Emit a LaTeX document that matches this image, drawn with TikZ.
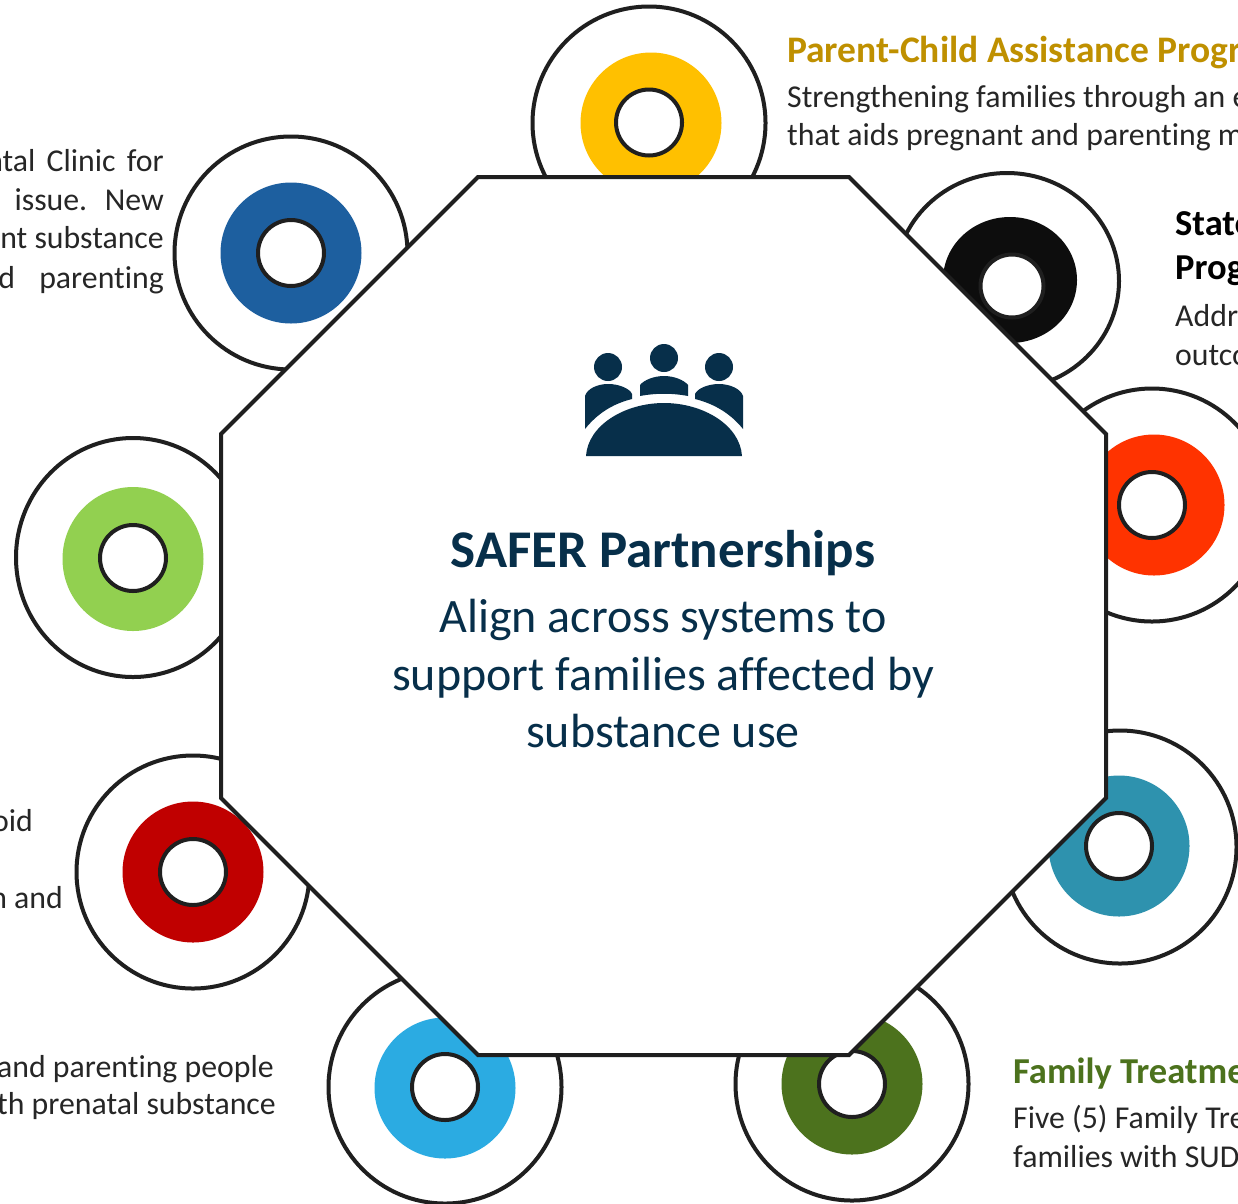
\documentclass[tikz,border=0pt]{standalone}
\usepackage{fontspec}
\setmainfont[Ligatures=NoCommon]{Carlito}
\definecolor{ink}{HTML}{262626}
\definecolor{line}{HTML}{1F1F1F}
\definecolor{navy}{HTML}{072F4A}
\definecolor{cyellow}{HTML}{FFC000}
\definecolor{cblack}{HTML}{0D0D0D}
\definecolor{corange}{HTML}{FF3300}
\definecolor{cteal}{HTML}{2E92AE}
\definecolor{cforest}{HTML}{4C721D}
\definecolor{csky}{HTML}{2BABE2}
\definecolor{cred}{HTML}{C00000}
\definecolor{clime}{HTML}{92D050}
\definecolor{cblue}{HTML}{1D5F9F}
\definecolor{gold}{HTML}{BF9000}
\tikzset{
  outerc/.style={draw=line,line width=4pt,fill=white},
  innerc/.style={draw=line,line width=4pt,fill=white},
  octa/.style={draw=line,line width=4pt,fill=white,line join=miter},
  body/.style={font=\fontsize{31.8}{36}\selectfont,text=ink,inner sep=0pt},
  lefttxt/.style={body,anchor=base east},
  righttxt/.style={body,anchor=base west},
  head/.style={font=\fontsize{36.5}{40}\selectfont\bfseries,inner sep=0pt,anchor=base west},
  centre/.style={font=\fontsize{48}{54}\selectfont,text=navy,inner sep=0pt,anchor=base},
}
\begin{document}
\begin{tikzpicture}[x=1pt,y=-1pt]
\useasboundingbox (0,0) rectangle (1238,1203);
\clip (0,0) rectangle (1238,1203);
\fill[white] (0,0) rectangle (1238,1203);
% outer circles, rings and holes
\foreach \ox/\oy/\orx/\ory/\ix/\iy/\rr/\rx/\ry/\rrx/\rry/\col in {
  649/123/116.5/116.5/649/122.5/33/651/123/70.5/70.5/cyellow,
  1007/281/112/108/1012/286/31.5/1010/280/67/63/cblack,
  1152/505/116.5/116.5/1152/505/33/1154/505/70.5/70.5/corange,
  1120/847/116.5/116.5/1119/846/33/1119/846/70.5/70.5/cteal,
  852/1084/116.5/116.5/852/1084/33/852/1084/70.5/70.5/cforest,
  445/1087/116.5/116.5/445/1087/33/445/1088/70.5/70.5/csky,
  193/872/116.5/116.5/193/872/33/193/872/70.5/70.5/cred,
  133/557.5/117/119.5/133/558/33/133/559/70.5/72/clime,
  291/253/116.5/116.5/291/253/33/291/253/70.5/70.5/cblue}{
  \draw[outerc] (\ox,\oy) ellipse[x radius=\orx,y radius=\ory];
  \fill[\col] (\rx,\ry) ellipse[x radius=\rrx,y radius=\rry];
  \draw[innerc] (\ix,\iy) circle[radius=\rr];
}
% central octagon
\draw[octa] (478,177) -- (849,177) -- (1106,434) -- (1106,798) -- (849,1055) -- (478,1055) -- (221,798) -- (221,434) -- cycle;
% icon
\fill[navy] (608,367) circle[radius=14] (664,358) circle[radius=14] (719,367) circle[radius=14];
\fill[navy] (585,429) -- (585,396) .. controls (587,389) and (597,384) .. (608,384) .. controls (620,384) and (630,389) .. (632,394) -- (632,399) .. controls (612,404) and (597,414) .. (585,429) -- cycle;
\fill[navy] (743,429) -- (743,396) .. controls (741,389) and (730,384) .. (719,384) .. controls (707,384) and (697,389) .. (695,394) -- (695,399) .. controls (715,404) and (731,414) .. (743,429) -- cycle;
\fill[navy] (640,396) -- (640,385) .. controls (644,380) and (654,376) .. (664,376) .. controls (674,376) and (684,380) .. (688,385) -- (688,396) .. controls (672,393) and (656,393) .. (640,396) -- cycle;
\fill[navy] (586,456) .. controls (588,425) and (625,403) .. (664,403) .. controls (703,403) and (740,425) .. (742,456) -- cycle;
% centre text
\node[centre,font=\fontsize{53}{58}\selectfont\bfseries] (title) at (663,567) {SAFER Partnerships};
\node[centre] (sub1) at (663,632) {Align across systems to};
\node[centre] (sub2) at (663,690) {support families affected by};
\node[centre] (sub3) at (663,747) {substance use};
% right-hand text
\node[head,text=gold,font=\fontsize{37.5}{42}\selectfont\bfseries] (pcap) at (787,62) {Parent-Child Assistance Progr};
\node[righttxt] (pcap1) at (787,107) {Strengthening families through an e};
\node[righttxt] (pcap2) at (787,145) {that aids pregnant and parenting m};
\node[head,text=black] (st1) at (1175,235) {State};
\node[head,text=black] (st2) at (1175,279) {Prog};
\node[righttxt] (st3) at (1175,326) {Addr};
\node[righttxt] (st4) at (1175,365) {outco};
\node[head,text=cforest] (ft) at (1013,1083) {Family Treatme};
\node[righttxt] (ft1) at (1013,1128) {Five (5) Family Tre};
\node[righttxt] (ft2) at (1013,1167) {families with SUD};
% left-hand text
\node[lefttxt] (l1) at (164,171) {ntal\hspace{4pt} Clinic\hspace{4pt} for};
\node[lefttxt] (l2) at (164,210) {e\hspace{10pt} issue.\hspace{8pt} New};
\node[lefttxt] (l3) at (164,248) {nt substance};
\node[lefttxt] (l4) at (164,288) {d\hspace{17pt} parenting};
\node[lefttxt] (l5) at (33,831) {oid};
\node[lefttxt] (l6) at (63,908) {n and};
\node[lefttxt] (l7) at (274,1077) {and parenting people};
\node[lefttxt] (l8) at (276,1114) {th prenatal substance};
\end{tikzpicture}
\end{document}
